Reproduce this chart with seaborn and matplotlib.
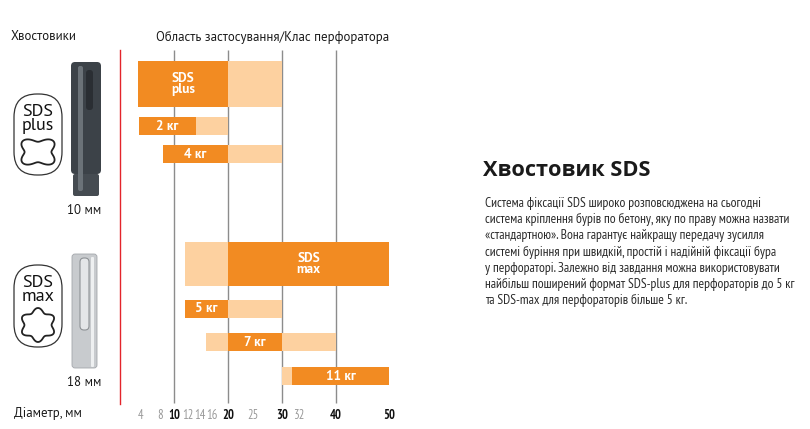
import numpy as np
import pandas as pd
import matplotlib
matplotlib.use("Agg")
import matplotlib.pyplot as plt
import matplotlib.transforms as mtransforms
from matplotlib import font_manager as fm
from matplotlib.patches import FancyBboxPatch, Polygon
import seaborn as sns

sns.set_style("white")

installed = {f.name for f in fm.fontManager.ttflist}


def pick(*cands):
    for c in cands:
        if c in installed:
            return c
    return "DejaVu Sans"


REG = pick("PT Sans", "Open Sans", "Noto Sans")
NARROW = pick("PT Sans Narrow", "Roboto Condensed", "Fira Sans Condensed",
              "Liberation Sans Narrow", "Roboto")
TITLE = pick("Open Sans", "Noto Sans")
plt.rcParams['font.family'] = [REG, 'DejaVu Sans']

# --- data (diameter, mm) ---
rows = ["SDS\nplus", "2 кг", "4 кг", "SDS\nmax", "5 кг", "7 кг", "11 кг"]
full_lo = [3.3, 3.5, 8, 12, 12, 16, 30]     # whole usable range (light)
full_hi = [30, 20, 30, 50, 30, 40, 50]
best_lo = [3.3, 3.5, 8, 20, 12, 20, 32]     # optimal range (dark)
best_hi = [20, 14, 20, 50, 20, 30, 50]
tick_vals = [4, 8, 10, 12, 14, 16, 20, 25, 30, 32, 40, 50]
major_ticks = [10, 20, 30, 40, 50]
shank_names = ["SDS\nplus", "SDS\nmax"]
shank_sizes = ["10 мм", "18 мм"]

df = pd.DataFrame({"row": rows, "full_lo": full_lo, "full_hi": full_hi,
                   "best_lo": best_lo, "best_hi": best_hi})

# layout (figure pixels, y down)
row_y = [84, 126, 154, 264, 309, 342, 376]
row_h = [46, 18, 18, 44, 18, 18, 18]
DARK = "#F28B22"
LIGHT = "#FDD1A0"

fig = plt.figure(figsize=(8.1, 4.29), dpi=100)
W, H = 810, 429
ax = fig.add_axes([120.3 / W, 1 - 404 / H, 52 * 5.38 / W, 354 / H])
ax.set_xlim(0, 52)
ax.set_ylim(404, 50)

ax.vlines(major_ticks[:-1], 50, 403, color="#8c8c8c", lw=1, zorder=0)

ax.barh(row_y, df.full_hi - df.full_lo, left=df.full_lo, height=row_h,
        color=LIGHT, lw=0, zorder=2)
ax.barh(row_y, df.best_hi - df.best_lo, left=df.best_lo, height=row_h,
        color=DARK, lw=0, zorder=3)
for i, r in df.iterrows():
    ax.text((r.best_lo + r.best_hi) / 2, row_y[i], r.row, ha="center", va="center",
            color="white", fontsize=9.5, fontweight="bold", linespacing=0.78, zorder=4)

sns.despine(ax=ax, top=True, right=True, bottom=True, left=False)
ax.spines["left"].set_color("#e3242b")
ax.spines["left"].set_linewidth(1)
ax.set_yticks([])
ax.set_xticks(tick_vals)
ax.set_xticklabels([str(t) for t in tick_vals])
ax.tick_params(axis="x", length=0, pad=3.5)
nudge = {4: -1, 8: -3, 12: 3, 14: 4, 16: 6, 25: -2, 32: 6}
for t, lab in zip(tick_vals, ax.get_xticklabels()):
    lab.set_fontfamily([NARROW, "DejaVu Sans"])
    lab.set_fontsize(9)
    if t in major_ticks:
        lab.set_color("#111111")
        lab.set_fontweight("bold")
    else:
        lab.set_color("#9a9a9a")
    dx = nudge.get(t, 0)
    lab.set_transform(lab.get_transform() +
                      mtransforms.ScaledTranslation(dx / 100, 0, fig.dpi_scale_trans))

# overlay for headers, shank pictograms and description
ov = fig.add_axes([0, 0, 1, 1])
ov.set_xlim(0, W)
ov.set_ylim(H, 0)
ov.axis("off")

ov.text(11, 37, "Хвостовики", ha="left", va="center", fontsize=9.3, color="#1a1a1a")
ov.text(273, 37, "Область застосування/Клас перфоратора", ha="center", va="center",
        fontsize=9.3, color="#1a1a1a")
ov.text(14, 414, "Діаметр, мм", ha="left", va="center", fontsize=9.3, color="#1a1a1a")


def badge(cy_top, cy_bot, name, lobes, depth, shape_cy, a, b):
    box = FancyBboxPatch((14, cy_top), 48, cy_bot - cy_top,
                         boxstyle="round,pad=0,rounding_size=23",
                         fc="white", ec="#333333", lw=0.9)
    ov.add_patch(box)
    ov.text(38, cy_top + 25, name, ha="center", va="center", fontsize=13,
            linespacing=0.78, color="#111111")
    t = np.linspace(0, 2 * np.pi, 240)
    r = 1 + depth * np.cos(lobes * t + np.pi)
    r = r / r.max()
    pts = np.column_stack([38 + a * r * np.cos(t), shape_cy + b * r * np.sin(t)])
    ov.add_patch(Polygon(pts, closed=True, fc="white", ec="#222222", lw=1.3))


badge(94, 175, shank_names[0], 4, 0.22, 152, 21, 16)
badge(265, 347, shank_names[1], 6, 0.14, 325, 18, 17)

# SDS plus shank (dark)
ov.add_patch(FancyBboxPatch((71, 62), 30, 112, boxstyle="round,pad=0,rounding_size=4",
                            fc="#3c4248", ec="none"))
ov.add_patch(FancyBboxPatch((73, 174), 26, 22, boxstyle="round,pad=0,rounding_size=2",
                            fc="#454b51", ec="none"))
ov.add_patch(FancyBboxPatch((78, 66), 5, 125, boxstyle="round,pad=0,rounding_size=2",
                            fc="#6b7278", ec="none"))
ov.add_patch(FancyBboxPatch((86, 70), 7, 40, boxstyle="round,pad=0,rounding_size=3",
                            fc="#2a2e33", ec="none"))
ov.text(84, 211, shank_sizes[0], ha="center", va="center", fontsize=9.3, color="#1a1a1a")

# SDS max shank (light)
ov.add_patch(FancyBboxPatch((72, 254), 25, 114, boxstyle="round,pad=0,rounding_size=3",
                            fc="#c8cbce", ec="#a3a7ab", lw=0.6))
ov.add_patch(FancyBboxPatch((80, 258), 9, 72, boxstyle="round,pad=0,rounding_size=4",
                            fc="#e4e6e8", ec="#8e9296", lw=0.8))
ov.add_patch(FancyBboxPatch((91, 257), 3, 110, boxstyle="round,pad=0,rounding_size=1",
                            fc="#eef0f1", ec="none"))
ov.text(84, 382, shank_sizes[1], ha="center", va="center", fontsize=9.3, color="#1a1a1a")

# description
ov.text(483, 171, "Хвостовик SDS", ha="left", va="center", fontsize=15.7,
        fontweight="bold", color="#1a1a1a", family=[TITLE, "DejaVu Sans"])
body = ("Система фіксації SDS широко розповсюджена на сьогодні\n"
        "система кріплення бурів по бетону, яку по праву можна назвати\n"
        "«стандартною». Вона гарантує найкращу передачу зусилля\n"
        "системі буріння при швидкій, простій і надійній фіксації бура\n"
        "у перфораторі. Залежно від завдання можна використовувати\n"
        "найбільш поширений формат SDS-plus для перфораторів до 5 кг\n"
        "та SDS-max для перфораторів більше 5 кг.")
ov.text(485, 197, body, ha="left", va="top", fontsize=9.7, linespacing=1.31,
        color="#2b2b2b", family=[NARROW, "DejaVu Sans"])

fig.savefig("out.png", dpi=100)
